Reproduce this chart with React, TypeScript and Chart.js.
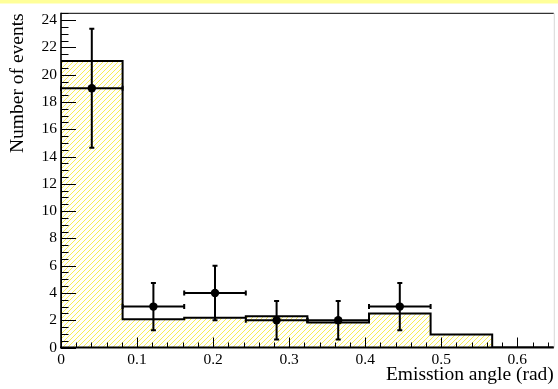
import React, { useEffect, useRef } from 'react';
import { Chart, registerables } from 'chart.js';

Chart.register(...registerables);

// ---- data ----
const binEdges = [0, 0.081, 0.162, 0.243, 0.324, 0.405, 0.486, 0.567, 0.648];
const mcCounts = [21, 2.07, 2.19, 2.29, 1.83, 2.49, 0.95, 0];
const dataBins = [0, 1, 2, 3, 4, 5];
const dataCounts = [19, 3, 4, 2, 2, 3];
const dataErrors = [4.36, 1.73, 2.0, 1.41, 1.41, 1.73];
const xTickValues = [0, 0.1, 0.2, 0.3, 0.4, 0.5, 0.6];
const yTickValues = [0, 2, 4, 6, 8, 10, 12, 14, 16, 18, 20, 22, 24];
const xTitle = 'Emisstion angle (rad)';
const yTitle = 'Number of events';

const X_MAX = 0.648;
const Y_MAX = 24.5;
const FONT = "'Liberation Serif', 'DejaVu Serif', serif";

function makeHatch(): CanvasPattern | string {
  const s = 5;
  const c = document.createElement('canvas');
  c.width = s;
  c.height = s;
  const g = c.getContext('2d');
  if (!g) return '#ffff99';
  g.strokeStyle = 'rgba(245,230,0,0.75)';
  g.lineWidth = 0.9;
  g.beginPath();
  g.moveTo(-1, s + 1);
  g.lineTo(s + 1, -1);
  g.moveTo(-1, 1);
  g.lineTo(1, -1);
  g.moveTo(s - 1, s + 1);
  g.lineTo(s + 1, s - 1);
  g.stroke();
  const p = g.createPattern(c, 'repeat');
  return p || '#ffff99';
}

const framePlugin = {
  id: 'rootFrame',
  beforeDraw(chart: any) {
    const ctx = chart.ctx;
    ctx.save();
    ctx.fillStyle = '#ffffff';
    ctx.fillRect(0, 0, chart.width, chart.height);
    ctx.fillStyle = '#ffff99';
    ctx.fillRect(0, 0, chart.width, 3.5);
    ctx.restore();
  },
  afterDatasetsDraw(chart: any) {
    const ctx = chart.ctx;
    const xs = chart.scales.x;
    const ys = chart.scales.y;
    const a = chart.chartArea;
    ctx.save();
    ctx.strokeStyle = '#000';

    // error bars for the data points
    ctx.lineWidth = 2;
    dataBins.forEach((b, i) => {
      const lo = binEdges[b];
      const hi = binEdges[b + 1];
      const c = (lo + hi) / 2;
      const px = xs.getPixelForValue(c);
      const py = ys.getPixelForValue(dataCounts[i]);
      const pUp = ys.getPixelForValue(dataCounts[i] + dataErrors[i]);
      const pDn = ys.getPixelForValue(dataCounts[i] - dataErrors[i]);
      const pl = xs.getPixelForValue(lo);
      const pr = xs.getPixelForValue(hi);
      ctx.beginPath();
      ctx.moveTo(px, pUp);
      ctx.lineTo(px, pDn);
      ctx.moveTo(px - 2.5, pUp);
      ctx.lineTo(px + 2.5, pUp);
      ctx.moveTo(px - 2.5, pDn);
      ctx.lineTo(px + 2.5, pDn);
      ctx.moveTo(pl, py);
      ctx.lineTo(pr, py);
      ctx.moveTo(pl, py - 2.5);
      ctx.lineTo(pl, py + 2.5);
      ctx.moveTo(pr, py - 2.5);
      ctx.lineTo(pr, py + 2.5);
      ctx.stroke();
    });

    // frame
    ctx.lineWidth = 1;
    ctx.beginPath();
    ctx.moveTo(a.left, a.top);
    ctx.lineTo(a.right, a.top);
    ctx.stroke();
    ctx.strokeStyle = '#d8d8d8';
    ctx.beginPath();
    ctx.moveTo(a.right + 0.5, a.top);
    ctx.lineTo(a.right + 0.5, a.bottom);
    ctx.stroke();

    // axes
    ctx.strokeStyle = '#000';
    ctx.lineWidth = 1.6;
    ctx.beginPath();
    ctx.moveTo(a.left, a.top - 0.5);
    ctx.lineTo(a.left, a.bottom);
    ctx.stroke();
    ctx.lineWidth = 2;
    ctx.beginPath();
    ctx.moveTo(a.left - 1, a.bottom);
    ctx.lineTo(a.right, a.bottom);
    ctx.stroke();

    // y ticks (inward)
    ctx.lineWidth = 1;
    for (let k = 0; k <= Y_MAX * 2; k++) {
      const v = k / 2;
      if (v > Y_MAX) break;
      const py = Math.round(ys.getPixelForValue(v)) + 0.5;
      const len = k % 4 === 0 ? 15 : 7.5;
      ctx.beginPath();
      ctx.moveTo(a.left, py);
      ctx.lineTo(a.left + len, py);
      ctx.stroke();
    }
    // x ticks (inward)
    for (let k = 0; k * 0.02 <= X_MAX + 1e-9; k++) {
      const v = k * 0.02;
      const px = Math.round(xs.getPixelForValue(v)) + 0.5;
      const len = k % 5 === 0 ? 10 : 5;
      ctx.beginPath();
      ctx.moveTo(px, a.bottom);
      ctx.lineTo(px, a.bottom - len);
      ctx.stroke();
    }
    ctx.restore();
  },
};

export default function App() {
  const ref = useRef<HTMLCanvasElement | null>(null);

  useEffect(() => {
    if (!ref.current) return;
    const hatch = makeHatch();

    const histPoints: { x: number; y: number }[] = [{ x: binEdges[0], y: 0 }];
    mcCounts.forEach((v, i) => histPoints.push({ x: binEdges[i], y: v }));
    histPoints.push({ x: binEdges[binEdges.length - 1], y: 0 });

    const dataPoints = dataBins.map((b, i) => ({
      x: (binEdges[b] + binEdges[b + 1]) / 2,
      y: dataCounts[i],
    }));

    const chart = new Chart(ref.current, {
      type: 'line',
      data: {
        datasets: [
          {
            type: 'scatter',
            label: 'Data',
            data: dataPoints,
            pointRadius: 4.2,
            pointBackgroundColor: '#000',
            pointBorderColor: '#000',
            pointBorderWidth: 0,
            showLine: false,
          } as any,
          {
            type: 'line',
            label: 'MC',
            data: histPoints,
            stepped: 'before',
            borderColor: '#000',
            borderWidth: 2,
            pointRadius: 0,
            fill: 'origin',
            backgroundColor: hatch as any,
            tension: 0,
          } as any,
        ],
      },
      options: {
        responsive: false,
        animation: false,
        events: [],
        layout: { padding: { left: 0, top: 11.5, right: 1, bottom: 0 } },
        plugins: {
          legend: { display: false },
          tooltip: { enabled: false },
        },
        scales: {
          x: {
            type: 'linear',
            min: 0,
            max: X_MAX,
            grid: { display: false, drawTicks: false },
            border: { display: false },
            afterBuildTicks: (s: any) => {
              s.ticks = xTickValues.map((v) => ({ value: v }));
            },
            afterFit: (s: any) => {
              s.height = 41.5;
            },
            ticks: {
              padding: 3.5,
              maxRotation: 0,
              autoSkip: false,
              color: '#000',
              font: { family: FONT, size: 15.5 },
              callback: (v: any) => String(Math.round(Number(v) * 10) / 10),
            },
            title: {
              display: true,
              text: xTitle,
              align: 'end',
              color: '#000',
              font: { family: FONT, size: 19.5 },
              padding: { top: 0, bottom: 2.2 },
            },
          },
          y: {
            type: 'linear',
            min: 0,
            max: Y_MAX,
            grid: { display: false, drawTicks: false },
            border: { display: false },
            afterBuildTicks: (s: any) => {
              s.ticks = yTickValues.map((v) => ({ value: v }));
            },
            afterFit: (s: any) => {
              s.width = 61;
            },
            ticks: {
              padding: 4,
              autoSkip: false,
              color: '#000',
              font: { family: FONT, size: 15.5 },
              callback: (v: any) => String(v),
            },
            title: {
              display: true,
              text: yTitle,
              align: 'end',
              color: '#000',
              font: { family: FONT, size: 19.5 },
              padding: { top: 6.5, bottom: 0 },
            },
          },
        },
      } as any,
      plugins: [framePlugin],
    });
    return () => chart.destroy();
  }, []);

  return (
    <div style={{ position: 'absolute', left: 0, top: 0, width: 558, height: 389, background: '#fff' }}>
      <canvas ref={ref} width={558} height={389} style={{ display: 'block', width: 558, height: 389 }} />
    </div>
  );
}
